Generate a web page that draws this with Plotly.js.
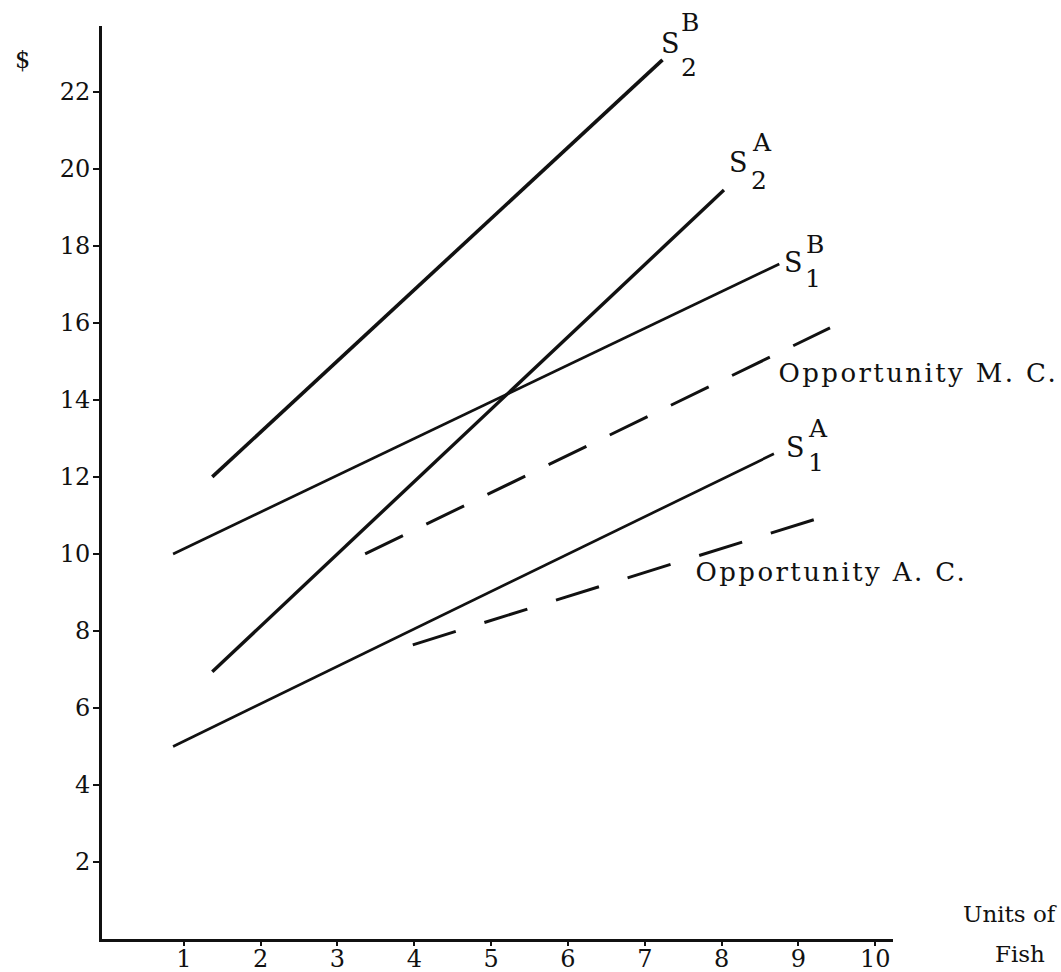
<!DOCTYPE html>
<html>
<head>
<meta charset="utf-8">
<script src="https://cdn.plot.ly/plotly-3.0.1.min.js"></script>
<style>
html,body{margin:0;padding:0;background:#fff;}
#chart{width:1061px;height:972px;}
.annotation-text.wide{letter-spacing:2.4px;}
</style>
</head>
<body>
<div id="chart"></div>
<script>
// ---- data ----
const s2B_x = [1.37, 7.23];  const s2B_y = [12.0, 22.83];
const s2A_x = [1.37, 8.03];  const s2A_y = [6.94, 19.45];
const s1B_x = [0.86, 8.75];  const s1B_y = [10.0, 17.53];
const s1A_x = [0.86, 8.68];  const s1A_y = [5.0, 12.6];
const oppMC_x = [3.36, 9.41]; const oppMC_y = [10.0, 15.87];
const oppAC_x = [3.98, 9.22]; const oppAC_y = [7.64, 10.9];
const xTicks = [1, 2, 3, 4, 5, 6, 7, 8, 9, 10];
const xTickText = ['1', '2', '3', '4', '5', '6', '7', '8', '9', '10'];
const yTicks = [2, 4, 6, 8, 10, 12, 14, 16, 18, 20, 22];
const yTickText = ['2', '4', '6', '8', '10', '12', '14', '16', '18', '20', '22'];

// ---- layout geometry ----
const W = 1061, H = 972;
const L = 102, R = 893, T = 26, B = 939;
const xRange = [-0.065, 10.23];
const yRange = [0, 23.71];
const pxp = p => (p - L) / (R - L);
const pyp = p => (B - p) / (B - T);

const FONT = 'DejaVu Serif, Liberation Serif, serif';
const ink = '#111';

function line(x, y, w, dash) {
  return {x: x, y: y, type: 'scatter', mode: 'lines', hoverinfo: 'none',
          line: {color: ink, width: w, dash: dash || 'solid'}, showlegend: false};
}

const data = [
  line(s2B_x, s2B_y, 3.6),
  line(s2A_x, s2A_y, 3.4),
  line(s1B_x, s1B_y, 2.7),
  line(s1A_x, s1A_y, 2.7),
  line(oppMC_x, oppMC_y, 3.0, '42px,26px'),
  line(oppAC_x, oppAC_y, 3.0, '45px,30px')
];

function ann(text, px, py, size) {
  return {text: text, x: pxp(px), y: pyp(py), xref: 'paper', yref: 'paper',
          showarrow: false, xanchor: 'center', yanchor: 'middle',
          font: {family: FONT, size: size, color: ink}};
}

const annotations = [
  ann('$', 22, 60, 24),
  // S2^B
  ann('S', 670, 43, 27), ann('B', 690, 23, 25), ann('2', 689, 67, 25),
  // S2^A
  ann('S', 738, 163, 27), ann('A', 762, 142, 25), ann('2', 759, 180, 25),
  // S1^B
  ann('S', 793, 262, 27), ann('B', 815, 245, 25), ann('1', 813, 278, 25),
  // S1^A
  ann('S', 795, 447, 27), ann('A', 818, 428, 25), ann('1', 816, 462, 25),
  ann('Opportunity M. C.', 918, 373, 26),
  ann('Opportunity A. C.', 831, 572, 26),
  ann('Units of', 1010, 914, 23),
  ann('Fish', 1020, 954, 23)
];

const layout = {
  width: W, height: H,
  margin: {l: L, r: W - R, t: T, b: H - B, pad: 0},
  paper_bgcolor: '#fff', plot_bgcolor: '#fff',
  showlegend: false,
  xaxis: {range: xRange, showgrid: false, zeroline: false, showline: true,
          linecolor: ink, linewidth: 3, ticks: 'outside', ticklen: 4, tickwidth: 2, tickcolor: ink,
          tickvals: xTicks, ticktext: xTickText, ticklabelstandoff: -8,
          tickfont: {family: FONT, size: 24, color: ink}, fixedrange: true},
  yaxis: {range: yRange, showgrid: false, zeroline: false, showline: true,
          linecolor: ink, linewidth: 3, ticks: 'outside', ticklen: 6, tickwidth: 2, tickcolor: ink,
          tickvals: yTicks, ticktext: yTickText, ticklabelstandoff: -2,
          tickfont: {family: FONT, size: 24, color: ink}, fixedrange: true},
  annotations: annotations
};

Plotly.newPlot('chart', data, layout, {displayModeBar: false, staticPlot: true}).then(function () {
  document.querySelectorAll('.annotation-text').forEach(function (t) {
    if (t.textContent.indexOf('Opportunity') === 0) {
      t.classList.add('wide');
    }
  });
});
</script>
</body>
</html>
